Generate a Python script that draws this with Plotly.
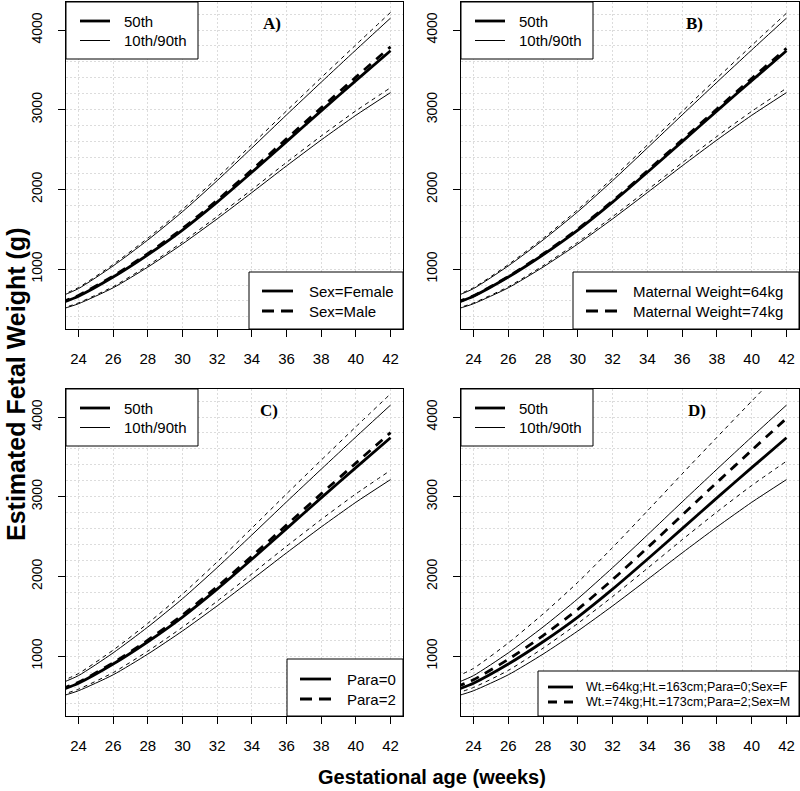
import plotly.graph_objects as go

# ---------------- data ----------------
weeks = [23, 24, 26, 28, 30, 32, 34, 36, 38, 40, 42]
x_ticks = [24, 26, 28, 30, 32, 34, 36, 38, 40, 42]
y_ticks = [1000, 2000, 3000, 4000]

# reference fetus: female, maternal weight 64 kg, height 163 cm, para 0
ref_p10 = [495, 565, 765, 1025, 1315, 1630, 1960, 2295, 2620, 2930, 3215]
ref_p50 = [575, 660, 900, 1180, 1490, 1840, 2215, 2600, 2985, 3365, 3740]
ref_p90 = [660, 755, 1040, 1365, 1720, 2110, 2520, 2935, 3345, 3750, 4150]

# A) male
male_p10 = [504, 576, 780, 1044, 1340, 1661, 1997, 2339, 2670, 2986, 3276]
male_p50 = [582, 669, 912, 1195, 1509, 1864, 2244, 2634, 3024, 3409, 3789]
male_p90 = [671, 768, 1058, 1388, 1749, 2146, 2563, 2985, 3402, 3814, 4221]

# B) maternal weight 74 kg
mw74_p10 = [503, 575, 778, 1042, 1337, 1658, 1993, 2334, 2665, 2980, 3270]
mw74_p50 = [580, 665, 907, 1189, 1502, 1855, 2233, 2621, 3009, 3392, 3770]
mw74_p90 = [670, 766, 1056, 1385, 1746, 2142, 2558, 2979, 3395, 3806, 4212]

# C) para 2
para2_p10 = [513, 585, 793, 1062, 1362, 1689, 2031, 2378, 2714, 3035, 3331]
para2_p50 = [585, 671, 915, 1200, 1515, 1871, 2253, 2644, 3036, 3422, 3804]
para2_p90 = [682, 781, 1075, 1411, 1778, 2182, 2606, 3035, 3459, 3878, 4291]

# D) 74 kg, 173 cm, para 2, male
combo_p10 = [531, 606, 820, 1099, 1410, 1747, 2101, 2460, 2809, 3141, 3446]
combo_p50 = [612, 703, 959, 1257, 1587, 1960, 2359, 2769, 3179, 3583, 3983]
combo_p90 = [739, 846, 1165, 1529, 1926, 2363, 2822, 3287, 3746, 4200, 4648]

panel_labels = ["A)", "B)", "C)", "D)"]
legend_top = ["50th", "10th/90th"]
legend_bottom = [
    ("Sex=Female", "Sex=Male"),
    ("Maternal Weight=64kg", "Maternal Weight=74kg"),
    ("Para=0", "Para=2"),
    ("Wt.=64kg;Ht.=163cm;Para=0;Sex=F", "Wt.=74kg;Ht.=173cm;Para=2;Sex=M"),
]
compare_sets = [
    (male_p10, male_p50, male_p90),
    (mw74_p10, mw74_p50, mw74_p90),
    (para2_p10, para2_p50, para2_p90),
    (combo_p10, combo_p50, combo_p90),
]

# ---------------- layout geometry (pixels) ----------------
W, H = 800, 791
def px(x):
    return x / W
def py(y):
    return 1 - y / H

boxes = [(66, 2, 403, 329), (461, 2, 799, 329), (66, 389, 403, 716), (461, 389, 799, 716)]
label_pos = [(272, 23), (694, 23), (269, 410), (697, 410)]
# bottom-right legend: (box width, box height, sample start, sample end, text offset,
#                       row1, row2, font size, sample dash)
bl_geom = [
    (154, 57, 13, 44, 58, 38, 18, 15, "12px,7px"),
    (226, 57, 13, 44, 58, 38, 18, 15, "12px,7px"),
    (116, 57, 13, 44, 58, 37, 17, 15, "12px,7px"),
    (261, 45, 10, 35, 46, 29, 14, 12.5, "9px,7px"),
]

FONT = "Liberation Sans, Arial, Helvetica, sans-serif"
SERIF = "Liberation Serif, Times New Roman, serif"
GRID = "#dcdcdc"
THICK = 2.8
THIN = 1.0
DASH_THICK = "9px,7px"
DASH_THIN = "4px,4px"

fig = go.Figure()
shapes = []
annotations = []

for i, (L, T, R, B) in enumerate(boxes):
    sfx = "" if i == 0 else str(i + 1)
    xa, ya = "x" + sfx, "y" + sfx
    c10, c50, c90 = compare_sets[i]
    series = [
        (ref_p10, THIN, "solid"), (ref_p90, THIN, "solid"), (ref_p50, THICK, "solid"),
        (c10, THIN, DASH_THIN), (c90, THIN, DASH_THIN), (c50, THICK, DASH_THICK),
    ]
    for vals, w, d in series:
        fig.add_trace(go.Scatter(
            x=weeks, y=vals, mode="lines", xaxis=xa, yaxis=ya,
            line=dict(color="black", width=w, dash=d, shape="spline", smoothing=0.6),
            showlegend=False, hoverinfo="skip"))

    fig.layout["xaxis" + sfx] = dict(
        domain=[px(L), px(R)], anchor=ya, range=[23.28, 42.72],
        tickvals=x_ticks, ticks="outside", ticklen=7, tickcolor="black",
        showline=True, mirror=True, linecolor="black", linewidth=1,
        showgrid=True, gridcolor=GRID, griddash="2px,2px", gridwidth=1,
        zeroline=False, tickfont=dict(size=15, family=FONT, color="black"),
        ticklabelstandoff=9, fixedrange=True)
    fig.layout["yaxis" + sfx] = dict(
        domain=[py(B), py(T)], anchor=xa, range=[248, 4352],
        tickvals=y_ticks, ticktext=[str(v) for v in y_ticks], tickangle=-90,
        ticks="outside", ticklen=7, tickcolor="black",
        showline=True, mirror=True, linecolor="black", linewidth=1,
        showgrid=True, gridcolor=GRID, griddash="2px,2px", gridwidth=1,
        minor=dict(tickvals=list(range(400, 4400, 200)), showgrid=True,
                   gridcolor=GRID, griddash="2px,2px", gridwidth=1, ticks=""),
        zeroline=False, tickfont=dict(size=14, family=FONT, color="black"),
        ticklabelstandoff=10, fixedrange=True)

    # panel label
    lx, ly = label_pos[i]
    annotations.append(dict(x=px(lx), y=py(ly), xref="paper", yref="paper",
                            text="<b>" + panel_labels[i] + "</b>", showarrow=False,
                            font=dict(size=17, family=SERIF, color="black"),
                            xanchor="center", yanchor="middle"))

    # top-left legend
    shapes.append(dict(type="rect", xref="paper", yref="paper",
                       x0=px(L), x1=px(L + 132), y0=py(T + 57), y1=py(T),
                       line=dict(color="black", width=1), fillcolor="white", layer="above"))
    for r, (txt, w) in enumerate(zip(legend_top, [THICK, THIN])):
        yy = T + 19 + 19.5 * r
        shapes.append(dict(type="line", xref="paper", yref="paper",
                           x0=px(L + 14), x1=px(L + 44), y0=py(yy), y1=py(yy),
                           line=dict(color="black", width=w), layer="above"))
        annotations.append(dict(x=px(L + 56), y=py(yy), xref="paper", yref="paper",
                                text=txt, showarrow=False, xanchor="left", yanchor="middle",
                                font=dict(size=15, family=FONT, color="black")))

    # bottom-right legend
    bw, bh, s0, s1, tx, r1, r2, fs, sdash = bl_geom[i]
    shapes.append(dict(type="rect", xref="paper", yref="paper",
                       x0=px(R - bw), x1=px(R), y0=py(B), y1=py(B - bh),
                       line=dict(color="black", width=1), fillcolor="white", layer="above"))
    for txt, off, d in zip(legend_bottom[i], [r1, r2], ["solid", sdash]):
        yy = B - off
        shapes.append(dict(type="line", xref="paper", yref="paper",
                           x0=px(R - bw + s0), x1=px(R - bw + s1), y0=py(yy), y1=py(yy),
                           line=dict(color="black", width=THICK, dash=d), layer="above"))
        annotations.append(dict(x=px(R - bw + tx), y=py(yy), xref="paper", yref="paper",
                                text=txt, showarrow=False, xanchor="left", yanchor="middle",
                                font=dict(size=fs, family=FONT, color="black")))

# outer axis titles
annotations.append(dict(x=px(432), y=py(777), xref="paper", yref="paper",
                        text="<b>Gestational age (weeks)</b>", showarrow=False,
                        xanchor="center", yanchor="middle",
                        font=dict(size=20, family=FONT, color="black")))
annotations.append(dict(x=px(16), y=py(385), xref="paper", yref="paper",
                        text="<b>Estimated Fetal Weight (g)</b>", showarrow=False,
                        textangle=-90, xanchor="center", yanchor="middle",
                        font=dict(size=25, family=FONT, color="black")))

fig.update_layout(
    width=W, height=H, margin=dict(l=0, r=0, t=0, b=0),
    paper_bgcolor="white", plot_bgcolor="white",
    shapes=shapes, annotations=annotations, showlegend=False,
    font=dict(family=FONT, color="black"),
)

fig.write_html(
    "out.html",
    config={"displayModeBar": False},
    post_script="document.body.style.margin='0';document.body.style.overflow='hidden';",
)
